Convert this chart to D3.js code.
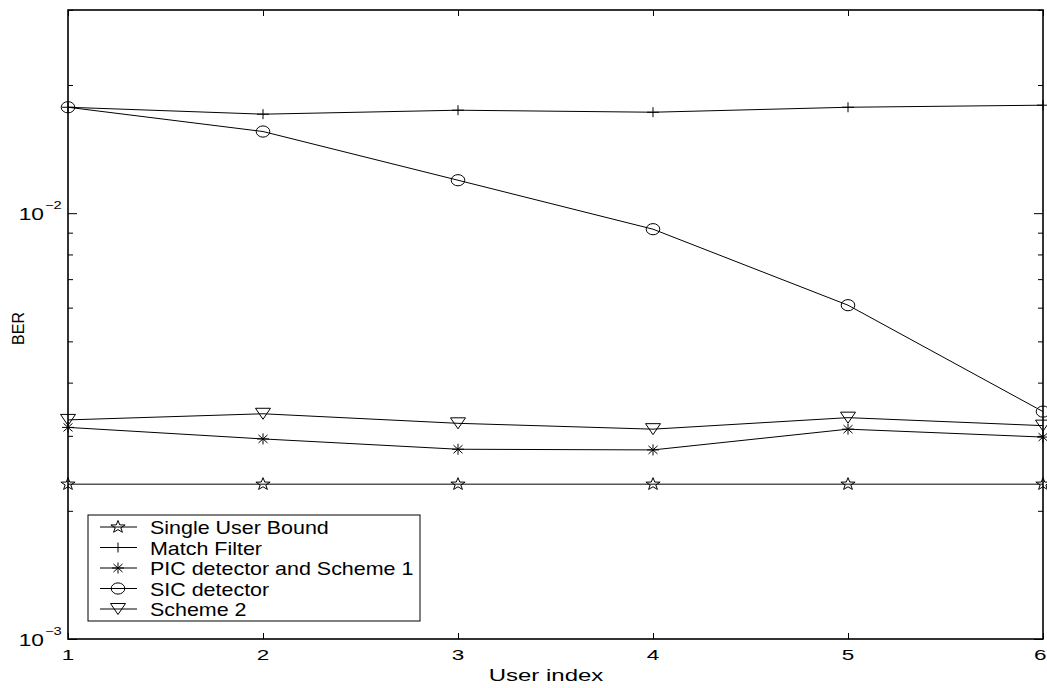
<!DOCTYPE html>
<html>
<head>
<meta charset="utf-8">
<script src="https://cdn.jsdelivr.net/npm/d3@7"></script>
<style>
  html, body { margin: 0; padding: 0; background: #fff; }
  svg { display: block; }
  text { font-family: "Liberation Sans", Arial, Helvetica, sans-serif; fill: #000; }
</style>
</head>
<body>
<svg id="chart" width="1047" height="688"></svg>
<script>
// User indices on the x axis
const users = [1, 2, 3, 4, 5, 6];

// BER per user for each detector
const singleUserBound = [0.00231, 0.00231, 0.00231, 0.00231, 0.00231, 0.00231];
const matchFilter     = [0.01773, 0.01708, 0.01745, 0.01726, 0.01773, 0.01793];
const picScheme1      = [0.00314, 0.00295, 0.00279, 0.00278, 0.00311, 0.00298];
const sicDetector     = [0.01773, 0.01555, 0.01195, 0.00917, 0.00608, 0.00342];
const scheme2         = [0.00327, 0.00338, 0.00321, 0.00311, 0.00331, 0.00317];

const seriesNames = ["Single User Bound", "Match Filter", "PIC detector and Scheme 1", "SIC detector", "Scheme 2"];
const seriesMarkers = ["pentagram", "plus", "asterisk", "circle", "triangleDown"];

// Axis ticks
const xTicks = [1, 2, 3, 4, 5, 6];
const yMajorTicks = [1e-3, 1e-2];
const yMinorTicks = [2e-3, 3e-3, 4e-3, 5e-3, 6e-3, 7e-3, 8e-3, 9e-3, 2e-2, 3e-2];
const yTickExponents = ["−3", "−2"];

const series = [singleUserBound, matchFilter, picScheme1, sicDetector, scheme2].map((vals, i) => ({
  name: seriesNames[i],
  marker: seriesMarkers[i],
  values: vals
}));

const W = 1047;
const svg = d3.select("#chart");
const plot = { left: 68, right: 1043, top: 10, bottom: 639 };

const x = d3.scaleLinear().domain([1, 6]).range([plot.left, plot.right]);
const y = d3.scaleLog().domain([1e-3, 3e-2]).range([plot.bottom, plot.top]);

// Text drawn with glyphs widened horizontally
function wideText(parent, tx, ty, sx, size, anchor) {
  return parent.append("g")
    .attr("transform", `translate(${tx},${ty}) scale(${sx},1)`)
    .append("text")
    .attr("text-anchor", anchor).attr("font-size", size);
}

// Marker shapes (slightly wider than tall)
function markerPath(kind) {
  const p = d3.path();
  switch (kind) {
    case "plus":
      p.moveTo(-6, 0); p.lineTo(6, 0);
      p.moveTo(0, -5); p.lineTo(0, 5);
      break;
    case "asterisk":
      p.moveTo(-6, 0); p.lineTo(6, 0);
      p.moveTo(0, -5.5); p.lineTo(0, 5.5);
      p.moveTo(-4.5, -4); p.lineTo(4.5, 4);
      p.moveTo(-4.5, 4); p.lineTo(4.5, -4);
      break;
    case "triangleDown":
      p.moveTo(-7.5, -5.5); p.lineTo(7.5, -5.5); p.lineTo(0, 5.5); p.closePath();
      break;
    case "pentagram": {
      const ro = 6.5, ri = 2.6;
      for (let k = 0; k < 10; k++) {
        const r = k % 2 === 0 ? ro : ri;
        const a = -Math.PI / 2 + k * Math.PI / 5;
        const px = r * Math.cos(a) * 1.15, py = r * Math.sin(a);
        if (k === 0) p.moveTo(px, py); else p.lineTo(px, py);
      }
      p.closePath();
      break;
    }
  }
  return p.toString();
}

function drawMarker(g, kind) {
  if (kind === "circle") {
    g.append("ellipse").attr("rx", 6.8).attr("ry", 5.6)
      .attr("fill", "none").attr("stroke", "#000").attr("stroke-width", 1);
  } else {
    g.append("path").attr("d", markerPath(kind))
      .attr("fill", "none").attr("stroke", "#000").attr("stroke-width", 1);
  }
}

// Series lines and markers
const line = d3.line().x((d, i) => x(users[i])).y(d => y(d));
series.forEach(s => {
  svg.append("path").datum(s.values)
    .attr("d", line)
    .attr("fill", "none").attr("stroke", "#000").attr("stroke-width", 1);
  s.values.forEach((v, i) => {
    const g = svg.append("g").attr("transform", `translate(${x(users[i])},${y(v)})`);
    drawMarker(g, s.marker);
  });
});

// Axes box with inward ticks on all four sides
const axisColor = "#000";
const bottomAxis = d3.axisBottom(x).tickValues(xTicks).tickSize(-6).tickFormat("");
const topAxis = d3.axisTop(x).tickValues(xTicks).tickSize(-6).tickFormat("");
svg.append("g").attr("transform", `translate(0,${plot.bottom})`).call(bottomAxis)
  .call(g => g.select(".domain").remove());
svg.append("g").attr("transform", `translate(0,${plot.top})`).call(topAxis)
  .call(g => g.select(".domain").remove());

const leftMajor = d3.axisLeft(y).tickValues(yMajorTicks).tickSize(-9).tickFormat("");
const leftMinor = d3.axisLeft(y).tickValues(yMinorTicks).tickSize(-5).tickFormat("");
const rightMajor = d3.axisRight(y).tickValues(yMajorTicks).tickSize(-9).tickFormat("");
const rightMinor = d3.axisRight(y).tickValues(yMinorTicks).tickSize(-5).tickFormat("");
[leftMajor, leftMinor].forEach(a => svg.append("g").attr("transform", `translate(${plot.left},0)`).call(a)
  .call(g => g.select(".domain").remove()));
[rightMajor, rightMinor].forEach(a => svg.append("g").attr("transform", `translate(${plot.right},0)`).call(a)
  .call(g => g.select(".domain").remove()));
svg.selectAll(".tick line").attr("stroke", axisColor).attr("stroke-width", 1);

svg.append("rect")
  .attr("x", plot.left).attr("y", plot.top)
  .attr("width", plot.right - plot.left).attr("height", plot.bottom - plot.top)
  .attr("fill", "none").attr("stroke", axisColor).attr("stroke-width", 1.6);

// Tick labels (kept inside the drawing's right edge)
const xLabelScale = 1.5;
xTicks.forEach(d => {
  const t = wideText(svg, x(d), plot.bottom + 21, xLabelScale, 15, "middle").text(d);
  const half = t.node().getComputedTextLength() * xLabelScale / 2;
  const cx = Math.min(x(d), W - 0.5 - half);
  t.node().parentNode.setAttribute("transform", `translate(${cx},${plot.bottom + 21}) scale(${xLabelScale},1)`);
});

yMajorTicks.forEach((d, i) => {
  wideText(svg, 44, y(d) + 7, 1.42, 16, "end").text("10");
  wideText(svg, 45, y(d) - 4, 1.4, 10.5, "start").text(yTickExponents[i]);
});

// Axis titles
wideText(svg, 546, 681, 1.5, 16, "middle").text("User index");
svg.append("text")
  .attr("transform", `translate(24,${(plot.top + plot.bottom) / 2 + 4}) rotate(-90)`)
  .attr("text-anchor", "middle").attr("font-size", 16).text("BER");

// Legend
const legend = svg.append("g").attr("transform", "translate(88,515)");
legend.append("rect").attr("x", 0).attr("y", 0).attr("width", 332).attr("height", 106)
  .attr("fill", "#fff").attr("stroke", "#000").attr("stroke-width", 1);
series.forEach((s, i) => {
  const ry = 12 + i * 20.5;
  const row = legend.append("g").attr("transform", `translate(0,${ry})`);
  row.append("line").attr("x1", 12).attr("x2", 49).attr("y1", 0).attr("y2", 0)
    .attr("stroke", "#000").attr("stroke-width", 1);
  const m = row.append("g").attr("transform", "translate(30,0)");
  drawMarker(m, s.marker);
  wideText(row, 62, 7, 1.16, 18.5, "start").text(s.name);
});
</script>
</body>
</html>
